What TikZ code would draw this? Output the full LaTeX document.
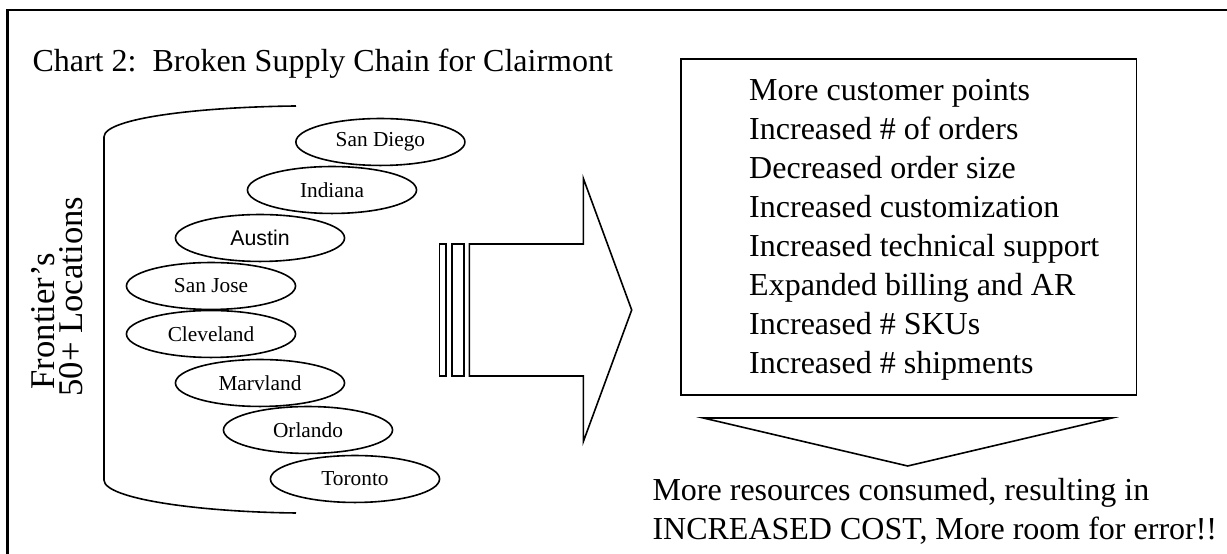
\documentclass[tikz,border=0pt]{standalone}
\usepackage{fontspec}
\setmainfont{Liberation Serif}
\newfontfamily\arialfont{Liberation Sans}
\usetikzlibrary{shapes.geometric}
\begin{document}
\begin{tikzpicture}[x=0.375pt,y=-0.375pt,
  loc/.style={draw,ellipse,line width=0.6pt,minimum width=63.4pt,minimum height=17.6pt,inner sep=0pt,font=\fontsize{8}{9}\selectfont},
  txt/.style={anchor=base west,inner sep=0pt,font=\fontsize{12}{14.66}\selectfont},
  vtxt/.style={rotate=90,anchor=base west,inner sep=0pt,font=\fontsize{13}{15}\selectfont},
  shapeline/.style={line width=0.6pt}]
\useasboundingbox (0,0) rectangle (1227,554);
% frame
\draw[line width=0.8pt] (7.5,554) -- (7.5,10) -- (1227,10);
% title
\node[txt] (title) at (32,72) {Chart 2:\ \ Broken Supply Chain for Clairmont};
% bracket
\draw[shapeline] (296,106) .. controls (200,107) and (104,118) .. (104,137) -- (104,480) .. controls (104,499) and (200,512) .. (296,513);
% vertical label
\node[vtxt] (fr) at (55,390) {Frontier’s};
\node[vtxt] (loc) at (82,397) {50+ Locations};
% locations
\node[loc] (sandiego) at (380.4,142) {San Diego};
\node[loc] (indiana) at (332,190) {Indiana};
\node[loc,font=\arialfont\fontsize{8}{9}\selectfont] (austin) at (260,238) {Austin};
\node[loc] (sanjose) at (211,286) {San Jose};
\node[loc] (cleveland) at (211,334) {Cleveland};
\node[loc] (marvland) at (260,383) {Marvland};
\node[loc] (orlando) at (308,430) {Orlando};
\node[loc] (toronto) at (355,479) {Toronto};
% block arrow
\draw[shapeline] (439.3,244) rectangle (446,376);
\draw[shapeline] (451.7,244) rectangle (464,376);
\draw[shapeline] (469.3,244) -- (583.3,244) -- (583.3,178.3) -- (631.7,310) -- (583.3,441.7) -- (583.3,376) -- (469.3,376) -- cycle;
% box
\node[draw,shapeline,minimum width=170.9pt,minimum height=126pt,anchor=north west,inner sep=0pt] (box) at (680,58) {};
\node[txt,align=left] (list) at (748.7,374) {More customer points\\Increased \# of orders\\Decreased order size\\Increased customization\\Increased technical support\\Expanded billing and AR\\Increased \# SKUs\\Increased \# shipments};
% down triangle
\draw[shapeline] (703.3,418) -- (1112,418) -- (907.7,466) -- cycle;
% result
\node[txt,align=left] (result) at (652,540) {More resources consumed, resulting in\\INCREASED COST, More room for error!!};
\end{tikzpicture}
\end{document}
